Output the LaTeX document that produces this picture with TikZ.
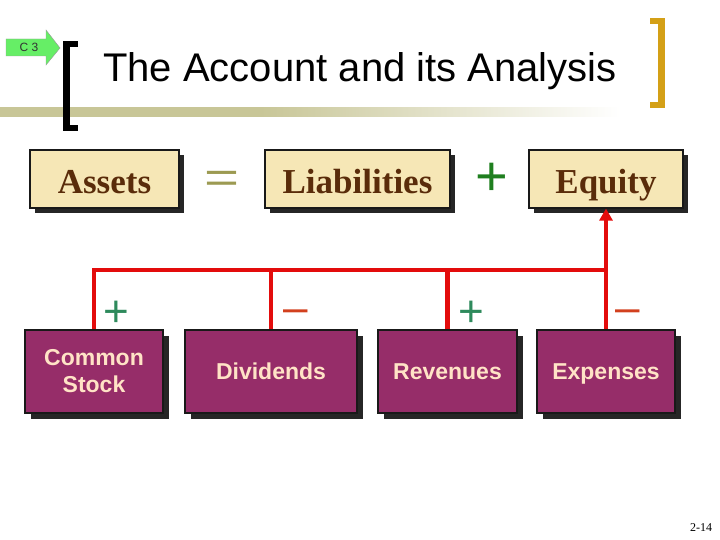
\documentclass[tikz,border=0pt]{standalone}
\usepackage{fontspec}
\setmainfont{Liberation Serif}
\setsansfont{Liberation Sans}
\usetikzlibrary{shadows,arrows.meta}
\definecolor{tanfill}{HTML}{F6E7B6}
\definecolor{browntext}{HTML}{5A2C0A}
\definecolor{purp}{HTML}{962D69}
\definecolor{cream}{HTML}{FFE3C6}
\definecolor{redline}{HTML}{E30C0C}
\definecolor{olivebar}{HTML}{C8C697}
\definecolor{gold}{HTML}{D4A017}
\definecolor{eqcol}{HTML}{9C9A52}
\definecolor{plusgreen}{HTML}{1F7F1F}
\definecolor{plusteal}{HTML}{2E8A5C}
\definecolor{minusred}{HTML}{D2401E}
\definecolor{arrgreen}{HTML}{66EE66}
\pgfdeclarehorizontalshading{barfade}{100bp}{color(0bp)=(olivebar); color(25bp)=(olivebar); color(46bp)=(olivebar); color(75bp)=(white); color(100bp)=(white)}
\begin{document}
\begin{tikzpicture}[x=1pt,y=-1pt,
  topbox/.style={draw=black!90,line width=1.2pt,fill=tanfill,text=browntext,
    font=\fontsize{35}{35}\selectfont\bfseries,minimum height=58pt,inner sep=0pt,
    text height=30pt,text depth=0pt,
    drop shadow={shadow xshift=5pt,shadow yshift=-5pt,opacity=1,fill=black!85}},
  botbox/.style={draw=black!90,line width=1.2pt,fill=purp,text=cream,
    font=\sffamily\fontsize{23}{27}\selectfont\bfseries,minimum height=83pt,inner sep=0pt,
    align=center,
    drop shadow={shadow xshift=6pt,shadow yshift=-6pt,opacity=1,fill=black!85}},
  oneline/.style={text height=16.5pt,text depth=0pt},
  conn/.style={redline,line width=4.5pt},
  connsh/.style={black!80!red!60!black,line width=4.5pt},
  sign/.style={font=\sffamily\fontsize{56}{56}\selectfont,inner sep=0pt},
  smallsign/.style={inner sep=0pt,font=\sffamily\fontsize{44}{44}\selectfont}
]
\useasboundingbox (0,0) rectangle (720,540);
% olive bar with fade
\shade[shading=barfade] (0,108) rectangle (620,117);
% left black bracket
\fill[black] (63,41) rectangle (70,131);
\fill[black] (63,41) rectangle (78,47);
\fill[black] (63,125) rectangle (78,131);
% right gold bracket
\fill[gold] (658,18) rectangle (665,108);
\fill[gold] (650,18) rectangle (665,24);
\fill[gold] (650,102) rectangle (665,108);
% C3 arrow
\draw[black!40,fill=arrgreen,line width=0.4pt] (6,39) -- (46,39) -- (46,30) -- (60,48) -- (46,65) -- (46,56) -- (6,56) -- cycle;
\node[font=\sffamily\fontsize{12}{12}\selectfont,text=black!80,inner sep=0pt,anchor=base] (c3) at (29,52) {C 3};
% title
\node[font=\sffamily\fontsize{40}{40}\selectfont,inner sep=0pt,anchor=base] (title) at (360,82) {The Account and its Analysis};
% top boxes
\node[topbox,minimum width=149pt] (assets) at (104.5,179) {Assets};
\node[topbox,minimum width=185pt] (liab) at (357.5,179) {Liabilities};
\node[topbox,minimum width=154pt] (equity) at (606,179) {Equity};
\node[inner sep=0pt,text=eqcol,font=\sffamily\fontsize{48}{48}\selectfont] (eq) at (222.5,181.5) {\scalebox{1.25}[0.9]{=}};
\node[sign,text=plusgreen] (plus) at (491.5,179.5) {+};
% bottom boxes
\node[botbox,minimum width=138pt] (cs) at (94,371.5) {Common\\Stock};
\node[botbox,oneline,minimum width=172pt] (div) at (271,371.5) {Dividends};
\node[botbox,oneline,minimum width=139pt] (rev) at (447.5,371.5) {Revenues};
\node[botbox,oneline,minimum width=138pt] (exp) at (606,371.5) {Expenses};
% connectors
\coordinate (bar) at (0,270);
\begin{scope}[shift={(-1.5,-1.5)}]
\draw[connsh] (cs.north) |- (exp.north |- bar);
\draw[connsh] (div.north) -- (div.north |- bar);
\draw[connsh] (rev.north) -- (rev.north |- bar);
\draw[connsh] (exp.north) -- ([yshift=-10pt]equity.south);
\end{scope}
\draw[conn] (cs.north) |- (exp.north |- bar);
\draw[conn] (div.north) -- (div.north |- bar);
\draw[conn] (rev.north) -- (rev.north |- bar);
\draw[conn,-{Triangle[length=12pt,width=13pt]}] (exp.north) -- (equity.south);
% signs
\node[smallsign,text=plusteal] (p1) at (116,314) {+};
\node[smallsign,text=minusred] (m1) at (296,316) {\textendash};
\node[smallsign,text=plusteal] (p2) at (471.5,314) {+};
\node[smallsign,text=minusred] (m2) at (627.5,316) {\textendash};
% page number
\node[font=\fontsize{12}{12}\selectfont,inner sep=0pt] (pg) at (701,528) {2-14};
\end{tikzpicture}
\end{document}
